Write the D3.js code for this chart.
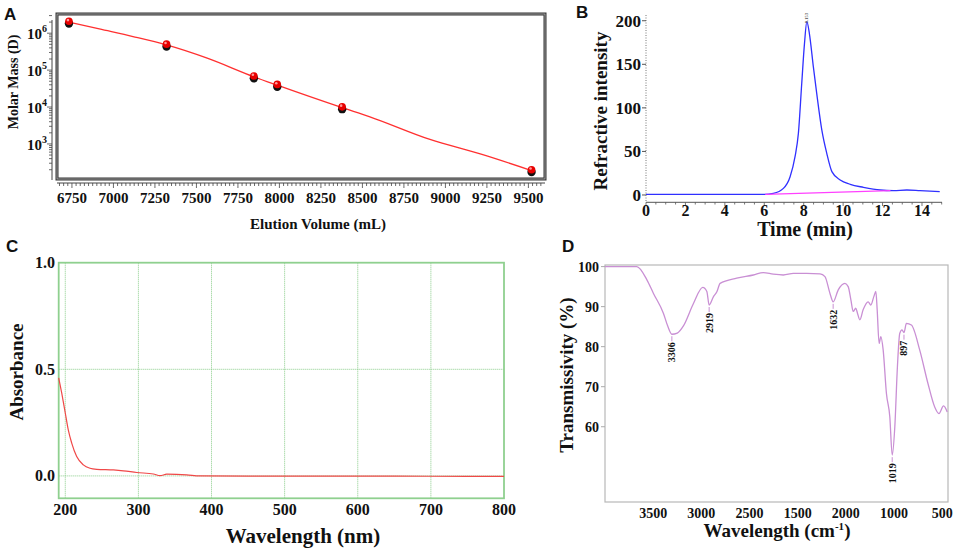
<!DOCTYPE html>
<html><head><meta charset="utf-8">
<script src="https://cdn.jsdelivr.net/npm/d3@7"></script>
<style>
body{margin:0;background:#fff}
svg{display:block}
text{font-family:"Liberation Serif","Times New Roman",serif;font-weight:bold;fill:#111}
.plabel{font-family:"Liberation Sans",Arial,sans-serif;font-weight:bold;font-size:17px}
</style>
</head><body>
<svg id="c" width="957" height="551"></svg>
<script>
// ---------- Panel A data ----------
const aVolume = [6732, 7320, 7846, 7987, 8378, 9519];
const aMass = [2.0e6, 4.8e5, 6.6e4, 3.9e4, 9.6e3, 1.9e2];
const aFitVolume = [6732, 6915, 7118, 7320, 7565, 7846, 7987, 8378, 8541, 8907, 9220, 9519];
const aFitMass = [2.0e6, 1.3e6, 8.1e5, 4.8e5, 2.1e5, 6.6e4, 3.9e4, 9.6e3, 5.5e3, 1.32e3, 5.2e2, 1.9e2];
const aXTicks = [6750, 7000, 7250, 7500, 7750, 8000, 8250, 8500, 8750, 9000, 9250, 9500];
const aYTicks = [1e3, 1e4, 1e5, 1e6];
const aYExp = ["3", "4", "5", "6"];

// ---------- Panel B data ----------
const bTime = [0, 6.0, 6.46, 6.97, 7.31, 7.56, 7.73, 7.9, 8.04, 8.16, 8.29, 8.49, 8.66, 8.92, 9.17, 9.43, 9.85, 10.36, 11.03, 11.88, 12.55, 13.23, 13.9, 14.9];
const bSignal = [0.8, 0.8, 1.9, 7.6, 21, 44, 70.7, 128, 174, 199, 185, 147, 116.6, 74.5, 47.8, 26.8, 17.2, 12.2, 8.8, 5.7, 5.0, 5.7, 5.0, 3.8];
const bBaseTime = [6.05, 12.4];
const bBaseSignal = [0.8, 5.0];
const bXTicks = [0, 2, 4, 6, 8, 10, 12, 14];
const bYTicks = [0, 50, 100, 150, 200];
const bPeakTime = 8.16, bPeakLabel = "8.153";

// ---------- Panel C data ----------
const cWave = [191, 195.1, 200, 204.1, 208.8, 215.6, 224.7, 233.8, 243, 265.8, 279.5, 297.8, 320.5, 329.6, 338.8, 366, 384, 450, 550, 650, 750, 800];
const cAbs = [0.46, 0.389, 0.295, 0.216, 0.154, 0.091, 0.052, 0.036, 0.031, 0.028, 0.024, 0.016, 0.009, 0.001, 0.008, 0.005, 0.0, -0.001, -0.001, -0.001, -0.002, -0.002];
const cXTicks = [200, 300, 400, 500, 600, 700, 800];
const cYTicks = [0.0, 0.5, 1.0];

// ---------- Panel D data ----------
const dWave = [4000, 3670, 3565, 3497, 3393, 3350, 3306, 3250, 3186, 3082, 2985, 2943, 2919, 2874, 2839, 2805, 2633, 2460, 2357, 2253, 2149, 2045, 1907, 1768, 1717, 1665, 1632, 1579, 1510, 1476, 1448, 1424, 1397, 1379, 1355, 1321, 1269, 1241, 1210, 1189, 1175, 1155, 1137, 1113, 1079, 1044, 1019, 992, 965, 941, 917, 897, 872, 820, 734, 648, 579, 534, 486, 448];
const dTrans = [100, 100, 96.7, 93.3, 88.3, 85.2, 83.1, 83.4, 85.2, 90.8, 94.8, 93.8, 90.4, 92.5, 93.7, 95.8, 97.1, 97.9, 98.5, 98.1, 97.9, 98.3, 98.3, 98.2, 97.5, 93.3, 91.2, 94.2, 95.8, 95.0, 91.7, 88.8, 89.6, 88.3, 86.7, 89.2, 91.2, 90.4, 92.5, 93.8, 89.2, 80.8, 82.5, 79.2, 68.3, 62.5, 52.9, 60, 75, 83.3, 84.2, 83.5, 85.8, 85.4, 79.2, 70.8, 65, 63.3, 65.2, 63.7];
const dPeakWave = [3306, 2919, 1632, 1019, 897];
const dPeakTrans = [83.1, 90.4, 91.2, 52.9, 83.5];
const dXTicks = [3500, 3000, 2500, 2000, 1500, 1000, 500];
const dXTickLabels = ["3500", "3000", "2500", "1500", "2000", "1000", "500"];
const dYTicks = [60, 70, 80, 90, 100];

const svg = d3.select("#c");

// ================= Panel A =================
{
  const g = svg.append("g");
  const x = d3.scaleLinear().domain([6660, 9600]).range([57, 545]);
  const y = d3.scaleLog().domain([Math.pow(10, 2.05), Math.pow(10, 6.52)]).range([179, 14]);
  g.append("text").attr("class", "plabel").attr("x", 4).attr("y", 20).text("A");
  // frame
  g.append("rect").attr("x", 57).attr("y", 14).attr("width", 488).attr("height", 165)
    .attr("fill", "none").attr("stroke", "#333").attr("stroke-width", 3);
  g.append("rect").attr("x", 57).attr("y", 14).attr("width", 488).attr("height", 165)
    .attr("fill", "none").attr("stroke", "#b8b8b8").attr("stroke-width", 0.8);
  // x axis with minor ticks
  const xa = g.append("g").attr("transform", "translate(0,183)");
  xa.append("line").attr("x1", 57).attr("x2", 545).attr("stroke", "#444").attr("stroke-width", 1);
  const minorX = d3.range(6675, 9600, 25);
  xa.selectAll("line.mt").data(minorX).join("line").attr("class", "mt")
    .attr("x1", d => x(d)).attr("x2", d => x(d)).attr("y1", 0)
    .attr("y2", d => (d % 250 === 0 ? 5 : 3)).attr("stroke", "#444").attr("stroke-width", 0.8);
  xa.selectAll("text").data(aXTicks).join("text")
    .attr("x", d => x(d)).attr("y", 20).attr("text-anchor", "middle").attr("font-size", 15).text(d => d);
  g.append("text").attr("x", 318).attr("y", 229).attr("text-anchor", "middle").attr("font-size", 15)
    .text("Elution Volume (mL)");
  // y axis
  const ya = g.append("g").attr("transform", "translate(52,0)");
  ya.append("line").attr("y1", 20).attr("y2", 180).attr("stroke", "#444");
  const minorY = [];
  for (let k = 2; k <= 6; k++) for (let m = 1; m <= 9; m++) {
    const v = m * Math.pow(10, k);
    if (v >= y.domain()[0] && v <= y.domain()[1]) minorY.push({v, major: m === 1});
  }
  ya.selectAll("line.mt").data(minorY).join("line").attr("class", "mt")
    .attr("x1", d => (d.major ? -5 : -3)).attr("x2", 0)
    .attr("y1", d => y(d.v)).attr("y2", d => y(d.v)).attr("stroke", "#444").attr("stroke-width", 0.8);
  const yl = ya.selectAll("text").data(aYTicks).join("text")
    .attr("x", -5).attr("y", d => y(d) + 6).attr("text-anchor", "end").attr("font-size", 15);
  yl.append("tspan").text("10");
  yl.append("tspan").attr("dy", -7).attr("font-size", 10).text((d, i) => aYExp[i]);
  g.append("text").attr("transform", "translate(18,82) rotate(-90)").attr("text-anchor", "middle")
    .attr("font-size", 14).text("Molar Mass (D)");
  // fit curve
  const fit = aFitVolume.map((v, i) => [v, aFitMass[i]]);
  g.append("path").datum(fit).attr("fill", "none").attr("stroke", "#ff3030").attr("stroke-width", 1.3)
    .attr("d", d3.line().x(d => x(d[0])).y(d => y(d[1])).curve(d3.curveMonotoneX));
  // points
  const pts = aVolume.map((v, i) => [v, aMass[i]]);
  g.selectAll("circle.sh").data(pts).join("circle").attr("class", "sh")
    .attr("cx", d => x(d[0])).attr("cy", d => y(d[1]) + 1.5).attr("r", 4.2).attr("fill", "#111");
  g.selectAll("circle.pt").data(pts).join("circle").attr("class", "pt")
    .attr("cx", d => x(d[0])).attr("cy", d => y(d[1]) - 0.8).attr("r", 3.8).attr("fill", "#e80000");
  g.selectAll("circle.hl").data(pts).join("circle").attr("class", "hl")
    .attr("cx", d => x(d[0]) - 1).attr("cy", d => y(d[1]) - 2).attr("r", 1.3).attr("fill", "#ff9a9a");
}

// ================= Panel B =================
{
  const g = svg.append("g");
  const x = d3.scaleLinear().domain([0, 15]).range([646, 941.7]);
  const y = d3.scaleLinear().domain([-8.4, 206.6]).range([202.3, 15]);
  g.append("text").attr("class", "plabel").attr("x", 576).attr("y", 18).text("B");
  // y axis dotted
  g.append("line").attr("x1", 646).attr("x2", 646).attr("y1", 15).attr("y2", 202.3)
    .attr("stroke", "#777").attr("stroke-width", 1).attr("stroke-dasharray", "1,1.5");
  g.selectAll("line.yt").data(bYTicks).join("line").attr("class", "yt")
    .attr("x1", 642).attr("x2", 646).attr("y1", d => y(d)).attr("y2", d => y(d)).attr("stroke", "#555");
  g.selectAll("text.yl").data(bYTicks).join("text").attr("class", "yl")
    .attr("x", 641).attr("y", d => y(d) + 6).attr("text-anchor", "end").attr("font-size", 17).text(d => d);
  // x axis
  g.append("line").attr("x1", 646).attr("x2", 942).attr("y1", 202.3).attr("y2", 202.3)
    .attr("stroke", "#777").attr("stroke-width", 1.2);
  g.selectAll("line.xt").data(d3.range(0, 15.01, 0.5)).join("line").attr("class", "xt")
    .attr("x1", d => x(d)).attr("x2", d => x(d)).attr("y1", 202.3)
    .attr("y2", d => (d % 2 === 0 ? 206 : 204.5)).attr("stroke", "#555").attr("stroke-width", 0.8);
  g.selectAll("text.xl").data(bXTicks).join("text").attr("class", "xl")
    .attr("x", d => x(d)).attr("y", 216).attr("text-anchor", "middle").attr("font-size", 16).text(d => d);
  g.append("text").attr("x", 805).attr("y", 236).attr("text-anchor", "middle").attr("font-size", 20)
    .text("Time (min)");
  g.append("text").attr("transform", "translate(607,111) rotate(-90)").attr("text-anchor", "middle")
    .attr("font-size", 19).text("Refractive intensity");
  // curves
  const line = d3.line().x(d => x(d[0])).y(d => y(d[1])).curve(d3.curveMonotoneX);
  g.append("path").datum(bTime.map((t, i) => [t, bSignal[i]])).attr("fill", "none")
    .attr("stroke", "#3030ff").attr("stroke-width", 1.3).attr("d", line);
  g.append("path").datum(bBaseTime.map((t, i) => [t, bBaseSignal[i]])).attr("fill", "none")
    .attr("stroke", "#ff40ff").attr("stroke-width", 1.3).attr("d", d3.line().x(d => x(d[0])).y(d => y(d[1])));
  g.append("text").attr("transform", `translate(${x(bPeakTime) + 1.5},${y(203)}) rotate(-90)`)
    .attr("text-anchor", "middle").attr("font-size", 4.5).attr("font-weight", "normal").style("fill", "#555")
    .text(bPeakLabel);
}

// ================= Panel C =================
{
  const g = svg.append("g");
  const x = d3.scaleLinear().domain([191, 800]).range([58.7, 504]);
  const y = d3.scaleLinear().domain([-0.105, 1.0]).range([498.3, 262.7]);
  g.append("text").attr("class", "plabel").attr("x", 6).attr("y", 252).text("C");
  const green = "#88cc88";
  g.selectAll("line.vg").data(cXTicks.slice(0, -1)).join("line").attr("class", "vg")
    .attr("x1", d => x(d)).attr("x2", d => x(d)).attr("y1", 262.7).attr("y2", 498.3)
    .attr("stroke", green).attr("stroke-width", 1).attr("stroke-dasharray", "1,1");
  g.selectAll("line.hg").data(cYTicks.slice(0, -1)).join("line").attr("class", "hg")
    .attr("x1", 58.7).attr("x2", 504).attr("y1", d => y(d)).attr("y2", d => y(d))
    .attr("stroke", green).attr("stroke-width", 1).attr("stroke-dasharray", "1,1");
  g.append("rect").attr("x", 58.7).attr("y", 262.7).attr("width", 504 - 58.7).attr("height", 498.3 - 262.7)
    .attr("fill", "none").attr("stroke", "#8fd08f").attr("stroke-width", 1.8);
  g.selectAll("text.xl").data(cXTicks).join("text").attr("class", "xl")
    .attr("x", d => x(d)).attr("y", 515).attr("text-anchor", "middle").attr("font-size", 16).text(d => d);
  g.selectAll("text.yl").data(cYTicks).join("text").attr("class", "yl")
    .attr("x", 55).attr("y", d => y(d) + 5.5).attr("text-anchor", "end").attr("font-size", 16).text(d => d.toFixed(1));
  g.append("text").attr("x", 303).attr("y", 543).attr("text-anchor", "middle").attr("font-size", 21)
    .text("Wavelength (nm)");
  g.append("text").attr("transform", "translate(23,372) rotate(-90)").attr("text-anchor", "middle")
    .attr("font-size", 19).text("Absorbance");
  g.append("path").datum(cWave.map((w, i) => [w, cAbs[i]])).attr("fill", "none")
    .attr("stroke", "#f04848").attr("stroke-width", 1.2)
    .attr("d", d3.line().x(d => x(d[0])).y(d => y(d[1])).curve(d3.curveMonotoneX));
}

// ================= Panel D =================
{
  const g = svg.append("g");
  const x = d3.scaleLinear().domain([4000, 440]).range([605, 948]);
  const y = d3.scaleLinear().domain([41.2, 100.4]).range([502, 265]);
  g.append("text").attr("class", "plabel").attr("x", 562).attr("y", 252).text("D");
  g.append("rect").attr("x", 605).attr("y", 265).attr("width", 343).attr("height", 237)
    .attr("fill", "none").attr("stroke", "#b8b8b8").attr("stroke-width", 1.2);
  g.selectAll("line.yt").data(dYTicks).join("line").attr("class", "yt")
    .attr("x1", 601).attr("x2", 605).attr("y1", d => y(d)).attr("y2", d => y(d)).attr("stroke", "#aaa");
  g.selectAll("text.yl").data(dYTicks).join("text").attr("class", "yl")
    .attr("x", 599).attr("y", d => y(d) + 5).attr("text-anchor", "end").attr("font-size", 14).text(d => d);
  g.selectAll("text.xl").data(dXTicks).join("text").attr("class", "xl")
    .attr("x", d => x(d)).attr("y", 518).attr("text-anchor", "middle").attr("font-size", 14)
    .text((d, i) => dXTickLabels[i]);
  const xt = g.append("text").attr("x", 777).attr("y", 537).attr("text-anchor", "middle").attr("font-size", 19);
  xt.append("tspan").text("Wavelength (cm");
  xt.append("tspan").attr("dy", -7).attr("font-size", 11).text("-1");
  xt.append("tspan").attr("dy", 7).text(")");
  g.append("text").attr("transform", "translate(573,375) rotate(-90)").attr("text-anchor", "middle")
    .attr("font-size", 19).text("Transmissivity (%)");
  g.append("path").datum(dWave.map((w, i) => [w, dTrans[i]])).attr("fill", "none")
    .attr("stroke", "#c98fd4").attr("stroke-width", 1.3)
    .attr("d", d3.line().x(d => x(d[0])).y(d => y(d[1])).curve(d3.curveMonotoneX));
  // peak labels
  const pk = dPeakWave.map((w, i) => [w, dPeakTrans[i]]);
  g.selectAll("line.pk").data(pk).join("line").attr("class", "pk")
    .attr("x1", d => x(d[0])).attr("x2", d => x(d[0]))
    .attr("y1", d => y(d[1]) + 2).attr("y2", d => y(d[1]) + 7)
    .attr("stroke", "#c98fd4").attr("stroke-width", 1);
  g.selectAll("text.pk").data(pk).join("text").attr("class", "pk")
    .attr("transform", d => `translate(${x(d[0]) + 3.5},${y(d[1]) + 8}) rotate(-90)`)
    .attr("text-anchor", "end").attr("font-size", 10).text(d => d[0]);
}
</script>
</body></html>
